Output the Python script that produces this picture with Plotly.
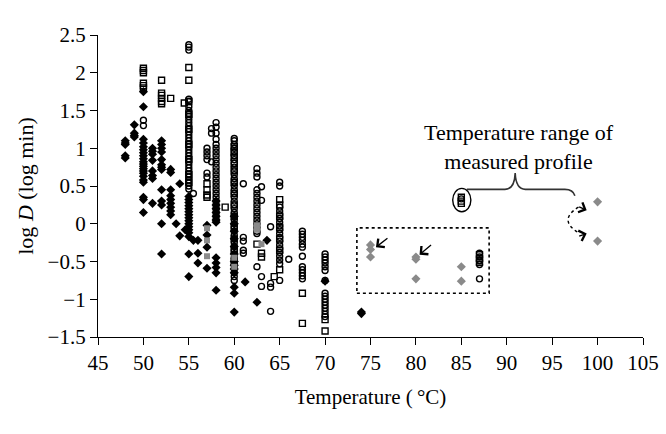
import plotly.graph_objects as go

# ---------------- data ----------------
# filled black diamonds
dia_temp = [48, 48, 48, 48, 48,
            49, 49, 49, 49,
            50, 50, 50, 50, 50, 50, 50, 50, 50, 50, 50, 50, 50, 50, 50, 50, 50, 50, 50, 50, 50,
            51, 51, 51, 51, 51, 51, 51, 51,
            52, 52, 52, 52, 52, 52, 52, 52, 52, 52, 52, 52, 52,
            53, 53, 53, 53, 53, 53, 53, 53, 53, 53.6,
            54, 54, 54.6,
            55, 55, 55, 55, 55, 55, 55, 55, 55, 55, 55, 55, 55, 55, 55, 55,
            55.5, 56, 56, 56,
            57, 57, 57, 57,
            58, 58, 58, 58, 58, 58, 58, 58, 58, 58, 58, 58,
            60, 60, 60, 60, 60, 60, 60, 60, 60, 60, 60, 60, 60,
            61.2, 62.5, 63.6, 70, 74, 74]
dia_logd = [1.10, 1.07, 1.05, 0.90, 0.87,
            1.31, 1.20, 1.17, 1.15,
            1.75, 1.55, 1.12, 1.07, 1.02, 0.98, 0.94, 0.90, 0.86, 0.82, 0.79, 0.76, 0.73, 0.70, 0.67, 0.63, 0.58, 0.55, 0.35, 0.32, 0.15,
            1.00, 0.96, 0.92, 0.84, 0.70, 0.64, 0.60, 0.27,
            1.10, 1.05, 1.00, 0.95, 0.85, 0.78, 0.75, 0.72, 0.45, 0.30, 0.25, 0.00, -0.40,
            0.72, 0.68, 0.45, 0.37, 0.32, 0.27, 0.22, 0.17, 0.12, 0.00,
            0.53, -0.16, -0.08,
            0.36, 0.32, 0.28, 0.24, 0.20, 0.16, 0.12, 0.08, 0.04, 0.00, -0.04, -0.08, -0.12, -0.17, -0.40, -0.70,
            -0.22, -0.22, -0.39, -0.52,
            -0.02, -0.15, -0.31, -0.59,
            0.30, 0.25, 0.20, 0.15, 0.10, 0.05, 0.02, -0.45, -0.52, -0.58, -0.65, -0.88,
            0.10, 0.00, -0.10, -0.20, -0.30, -0.40, -0.50, -0.55, -0.60, -0.65, -0.84, -0.92, -1.17,
            -0.77, -1.04, -0.22, -0.76, -1.17, -1.19]

# open circles
cir_temp = [50, 50,
            55, 55, 55, 55, 55, 55, 55, 55, 55, 55, 55, 55, 55, 55, 55, 55, 55, 55, 55, 55, 55, 55, 55, 55, 55, 55, 55, 55, 55, 55, 55, 55, 55,
            55.5,
            57, 57, 57, 57, 57, 57,
            57.5, 57.5, 57.5,
            58, 58, 58, 58, 58, 58, 58, 58, 58, 58, 58, 58, 58, 58, 58, 58, 58, 58, 58, 58, 58, 58, 58, 58, 58,
            60, 60, 60, 60, 60, 60, 60, 60, 60, 60, 60, 60, 60, 60, 60, 60, 60, 60, 60, 60,
            60, 60, 60, 60, 60, 60, 60, 60, 60, 60, 60, 60, 60, 60, 60, 60, 60, 60, 60,
            61, 61, 61, 61, 61,
            62.5, 62.5, 62.5, 62.5, 62.5, 62.5, 62.5, 62.5, 62.5, 62.5, 62.5, 62.5, 62.5, 62.5, 62.5, 62.5, 62.5,
            63, 63, 63, 63,
            64, 64, 64, 64,
            65, 65, 65, 65, 65, 65, 65, 65, 65, 65, 65, 65, 65, 65, 65, 65, 65, 65, 65,
            66,
            67.5, 67.5, 67.5, 67.5, 67.5, 67.5, 67.5, 67.5, 67.5, 67.5, 67.5, 67.5,
            70, 70, 70, 70, 70, 70, 70, 70, 70, 70, 70, 70, 70, 70, 70, 70,
            85,
            87, 87, 87, 87, 87]
cir_logd = [1.37, 1.30,
            2.37, 2.34, 2.30, 1.65, 1.62, 1.55, 1.50, 1.46, 1.42, 1.38, 1.34, 1.30, 1.26, 1.22, 1.18, 1.14, 1.10, 1.06, 1.02, 0.98, 0.94, 0.90, 0.86, 0.82, 0.78, 0.74, 0.70, 0.66, 0.62, 0.58, 0.54, 0.50, 0.46,
            0.40,
            1.00, 0.95, 0.90, 0.85, 0.67, 0.62,
            1.26, 1.20, 0.82,
            1.34, 1.28, 1.20, 1.12, 1.05, 1.00, 0.95, 0.90, 0.85, 0.80, 0.75, 0.70, 0.65, 0.60, 0.55, 0.50, 0.45, 0.40, 0.35, 0.30, 0.25, 0.20, 0.15, 0.10, 0.05,
            1.13, 1.10, 1.05, 1.00, 0.95, 0.90, 0.85, 0.80, 0.75, 0.70, 0.65, 0.60, 0.55, 0.50, 0.45, 0.40, 0.35, 0.30, 0.25, 0.20,
            0.15, 0.10, 0.05, 0.00, -0.05, -0.10, -0.15, -0.20, -0.25, -0.30, -0.35, -0.40, -0.45, -0.50, -0.55, -0.60, -0.65, -0.70, -0.75,
            0.53, -0.18, -0.23, -0.35, -0.39,
            0.73, 0.67, 0.62, 0.45, 0.40, 0.35, 0.30, 0.25, 0.20, 0.15, 0.10, 0.05, 0.00, -0.05, -0.10, -0.13, -0.57,
            0.49, 0.31, -0.70, -0.83,
            -0.04, -0.79, -0.84, -1.16,
            0.55, 0.50, 0.22, 0.17, 0.12, 0.07, 0.02, -0.03, -0.08, -0.13, -0.18, -0.23, -0.28, -0.33, -0.38, -0.43, -0.48, -0.53, -0.75,
            -0.47,
            -0.10, -0.14, -0.18, -0.22, -0.27, -0.31, -0.43, -0.57, -0.61, -0.65, -0.69, -0.73,
            -0.40, -0.44, -0.48, -0.52, -0.57, -0.62, -0.75, -0.92, -0.96, -1.00, -1.04, -1.08, -1.12, -1.16, -1.20, -1.23,
            0.33,
            -0.39, -0.44, -0.49, -0.54, -0.73]

# open squares
sq_temp = [50, 50, 50, 50, 50, 50,
           52, 52, 52, 52, 52, 52,
           53, 54.5,
           55, 55, 55, 55, 55, 55, 55, 55, 55,
           57, 57, 57, 57,
           59,
           60, 60, 60, 60, 60, 60, 60, 60, 60, 60, 60, 60, 60,
           62.5, 63, 63, 64.4,
           65, 65, 65, 65, 65, 65, 65,
           67.5, 67.5, 70, 70,
           85, 85, 85,
           87, 87, 87]
sq_logd = [2.06, 2.03, 2.00, 1.86, 1.83, 1.80,
           1.90, 1.73, 1.70, 1.66, 1.62, 1.59,
           1.66, 1.60,
           2.07, 1.90, 1.62, 1.45, 1.25, 1.05, 0.85, 0.65, 0.55,
           0.53, 0.45, 0.38, 0.35,
           0.22,
           1.02, 0.95, 0.88, 0.80, 0.70, 0.55, 0.40, 0.25, 0.10, -0.05, -0.20, -0.35, -0.50,
           -0.27, -0.39, -0.44, -0.70,
           0.32, 0.25, 0.10, -0.05, -0.20, -0.35, -0.61,
           -0.92, -1.32, -1.27, -1.42,
           0.35, 0.30, 0.27,
           -0.41, -0.46, -0.51]

# grey filled squares
gsq_temp = [57, 57, 57, 60, 60, 62.5, 62.5, 63]
gsq_logd = [-0.06, -0.22, -0.43, -0.45, -0.57, -0.02, -0.08, -0.27]

# grey diamonds (measured profile)
gdia_temp = [75, 75, 75, 80, 80, 80, 85, 85, 100, 100]
gdia_logd = [-0.28, -0.34, -0.44, -0.44, -0.47, -0.73, -0.57, -0.76, 0.29, -0.23]

x_ticks = [45, 50, 55, 60, 65, 70, 75, 80, 85, 90, 95, 100, 105]
y_ticks = [-1.5, -1, -0.5, 0, 0.5, 1, 1.5, 2, 2.5]

# ---------------- figure ----------------
FONT = "Liberation Serif"
fig = go.Figure()
fig.add_trace(go.Scatter(x=cir_temp, y=cir_logd, mode="markers",
                         marker=dict(symbol="circle-open", size=6, color="black", line=dict(width=1.4))))
fig.add_trace(go.Scatter(x=sq_temp, y=sq_logd, mode="markers",
                         marker=dict(symbol="square-open", size=6, color="black", line=dict(width=1.4))))
fig.add_trace(go.Scatter(x=dia_temp, y=dia_logd, mode="markers",
                         marker=dict(symbol="diamond", size=7, color="black", line=dict(width=0))))
fig.add_trace(go.Scatter(x=gsq_temp, y=gsq_logd, mode="markers",
                         marker=dict(symbol="square", size=6, color="#8a8a8a", line=dict(width=0))))
fig.add_trace(go.Scatter(x=gdia_temp, y=gdia_logd, mode="markers",
                         marker=dict(symbol="diamond", size=7, color="#8a8a8a", line=dict(width=0))))

fig.update_layout(
    width=666, height=434,
    margin=dict(l=98, r=23, t=35, b=97, autoexpand=False),
    paper_bgcolor="white", plot_bgcolor="white",
    showlegend=False,
    font=dict(family=FONT, color="black", size=21),
    xaxis=dict(range=[45, 105], tickvals=x_ticks, showline=True, linecolor="black", linewidth=1.3,
               ticks="outside", ticklen=7, tickwidth=1.3, tickcolor="black", automargin=False,
               showgrid=False, zeroline=False, tickfont=dict(size=21, family=FONT),
               title=dict(text="Temperature (\u2009°C)", font=dict(size=21, family=FONT), standoff=14)),
    yaxis=dict(range=[-1.5, 2.5], tickvals=y_ticks, showline=True, linecolor="black", linewidth=1.3,
               ticks="outside", ticklen=7, tickwidth=1.3, tickcolor="black", automargin=False,
               showgrid=False, zeroline=False, tickfont=dict(size=21, family=FONT),
               title=dict(text="log <i>D</i> (log min)", font=dict(size=22, family=FONT), standoff=7)),
)

# dotted rectangle around the measured-profile points
fig.add_shape(type="rect", x0=73.5, x1=88.06, y0=-0.92, y1=-0.055,
              line=dict(color="black", width=1.6, dash="dot"))
# ellipse around the 85 °C point
fig.add_shape(type="circle", x0=84.05, x1=86.05, y0=0.158, y1=0.468,
              line=dict(color="black", width=1.4))
# curly brace
fig.add_shape(type="path",
              path="M 85.6,0.455 L 89.8,0.455 Q 90.85,0.455 90.93,0.671 Q 91.0,0.455 92.05,0.455 "
                   "L 96.4,0.455 Q 97.3,0.455 97.5,0.37",
              line=dict(color="#333333", width=1.6))
# dotted curve near 100 °C
fig.add_shape(type="path", path="M 97.9,0.22 Q 95.6,0.05 97.9,-0.12",
              line=dict(color="black", width=1.4, dash="dot"))

fig.add_annotation(x=91.37, y=1.016, text="Temperature range of<br>measured profile",
                   showarrow=False, font=dict(size=22, family=FONT), align="center")
# arrows
for (hx, hy, ax, ay) in [(75.6, -0.31, 13, -10), (80.4, -0.41, 13, -11),
                         (98.8, 0.18, -9, -4), (98.8, -0.13, -9, 3)]:
    fig.add_annotation(x=hx, y=hy, ax=ax, ay=ay, text="", showarrow=True,
                       arrowhead=4, arrowsize=1.6, arrowwidth=1.3, arrowcolor="black")

fig.write_html("out.html", config={"displayModeBar": False},
               post_script="document.body.style.margin='0';document.body.style.padding='0';")
